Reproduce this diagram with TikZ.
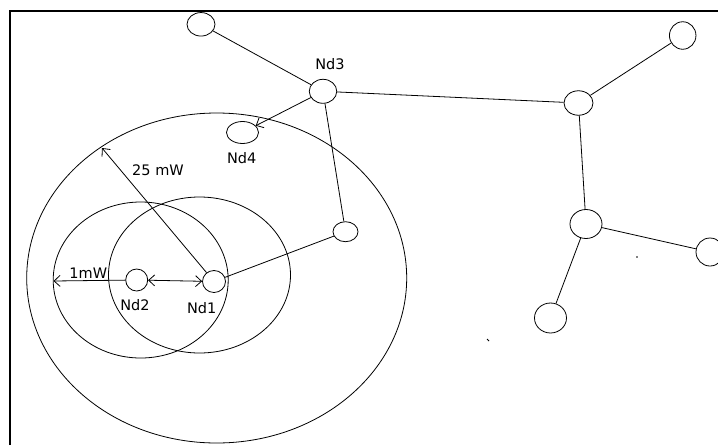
\documentclass[tikz,border=0pt]{standalone}
\usepackage{fontspec}
\setmainfont{DejaVu Sans}
\usetikzlibrary{shapes.geometric,arrows.meta}
\begin{document}
\begin{tikzpicture}[x=1pt,y=-1pt,
  every path/.style={line width=0.8pt},
  nd/.style={draw, ellipse, inner sep=0pt, line width=0.8pt},
  lbl/.style={inner sep=0pt, font=\fontsize{14.5}{17}\selectfont},
  arrtip/.style={-{Straight Barb[length=6pt,width=11pt]}},
  dblarr/.style={{Straight Barb[length=6pt,width=11pt]}-{Straight Barb[length=6pt,width=11pt]}}]
\useasboundingbox (0,0) rectangle (718,445);
\fill[white] (0,0) rectangle (718,445);
% frame
\draw[line width=1.2pt] (10,445) -- (10,11) -- (718,11);
% range circles
\draw (216.7,278) ellipse [x radius=190pt, y radius=165pt];
\draw (140.7,280) ellipse [x radius=87.5pt, y radius=78pt];
\draw (199.5,275) ellipse [x radius=91pt, y radius=78pt];
% nodes
\node[nd, minimum width=28pt, minimum height=23.5pt] (a) at (201,24.3) {};
\node[nd, minimum width=27.5pt, minimum height=24pt] (nd3) at (323,91.3) {};
\node[nd, minimum width=32pt, minimum height=22pt] (nd4) at (242.5,132.5) {};
\node[nd, minimum width=29pt, minimum height=24.5pt] (b) at (578.5,103) {};
\node[nd, minimum width=26.5pt, minimum height=27.5pt] (c) at (682.7,35.5) {};
\node[nd, minimum width=32pt, minimum height=29pt] (d) at (586,224) {};
\node[nd, minimum width=28pt, minimum height=28pt] (e) at (710,252) {};
\node[nd, minimum width=32pt, minimum height=30pt] (f) at (550.5,318) {};
\node[nd, minimum width=25pt, minimum height=20pt] (g) at (345.5,231.7) {};
\node[nd, minimum width=23pt, minimum height=22pt] (nd1) at (214,281.5) {};
\node[nd, minimum width=22pt, minimum height=22pt] (nd2) at (136.7,280) {};
% labels
\node[lbl] (lnd3) at (330,64) {Nd3};
\node[lbl] (lnd4) at (241.7,158.3) {Nd4};
\node[lbl] (l25) at (158,170) {25 mW};
\node[lbl] (l1) at (88.3,273.3) {1mW};
\node[lbl] (lnd2) at (135,305) {Nd2};
\node[lbl] (lnd1) at (201.7,308.3) {Nd1};
% free ends
\coordinate (c1) at (53.5,281);
\coordinate (c25) at (102,148);
% links
\draw (a) -- (nd3);
\draw (nd3) -- (b);
\draw (b) -- (c);
\draw (b) -- (d);
\draw (d) -- (e);
\draw (d) -- (f);
\draw (nd3) -- (g);
\draw (g) -- (nd1);
% arrows
\draw[arrtip] (nd3) -- (nd4);
\draw[dblarr] (nd2) -- (nd1);
\draw[arrtip] (nd2) -- (c1);
\draw[arrtip] (nd1) -- (c25);
% stray marks
\fill (637,257) circle [radius=0.9pt];
\draw (487,339) -- (489,341);
\end{tikzpicture}
\end{document}
